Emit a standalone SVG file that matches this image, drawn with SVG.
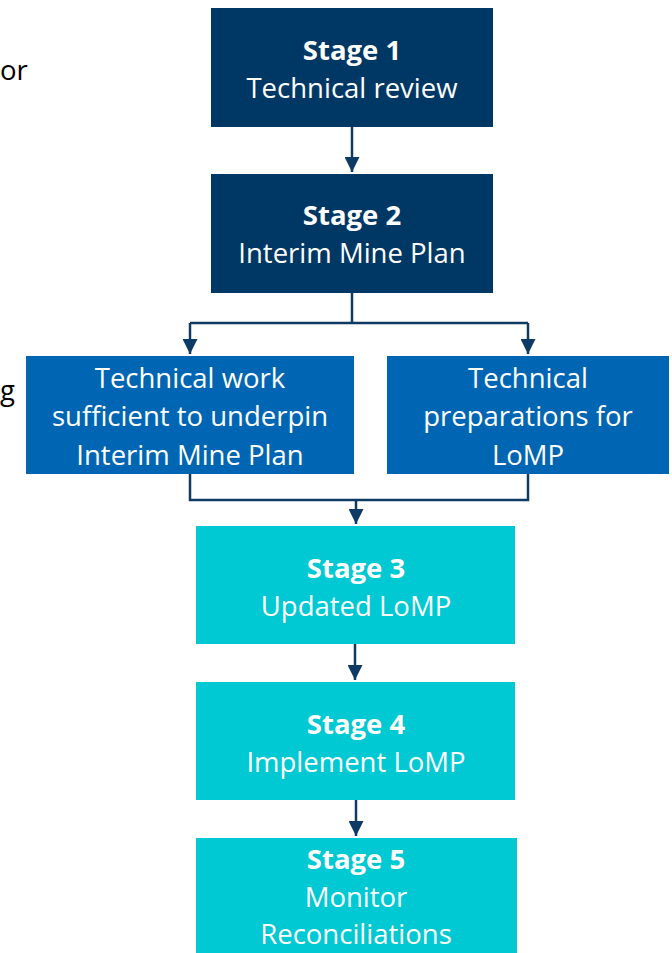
<svg xmlns="http://www.w3.org/2000/svg" width="672" height="953" viewBox="0 0 672 953">
<style>
.t{font-family:"Open Sans","Liberation Sans",sans-serif;font-size:27.5px;fill:#fff;text-anchor:middle}
.b{font-weight:bold}
.k{font-family:"Open Sans","Liberation Sans",sans-serif;font-size:27.5px;fill:#000}
.c{fill:none;stroke:#0d3b66;stroke-width:2.5}
.navy{fill:#003865}
.blue{fill:#0066b3}
.cyan{fill:#00c9d4}
</style>
<defs>
<marker id="ah" viewBox="0 0 10 10" refX="10" refY="5" markerWidth="6" markerHeight="6" orient="auto" markerUnits="strokeWidth">
<path d="M0,0 L10,5 L0,10 z" fill="#0d3b66"/>
</marker>
</defs>
<text class="k" x="0" y="80">or</text>
<text class="k" x="0" y="400">g</text>
<g id="connectors">
<path class="c" d="M352,127 V172" marker-end="url(#ah)"/>
<path class="c" d="M352,293 V323 M190,323 H528"/>
<path class="c" d="M190,323 V354" marker-end="url(#ah)"/>
<path class="c" d="M528,323 V354" marker-end="url(#ah)"/>
<path class="c" d="M190,474 V500 H528 V474"/>
<path class="c" d="M356,500 V524" marker-end="url(#ah)"/>
<path class="c" d="M355,644 V680" marker-end="url(#ah)"/>
<path class="c" d="M356,800 V836" marker-end="url(#ah)"/>
</g>
<g id="stage1"><rect class="navy" x="211" y="8" width="282" height="119"/>
<text class="t b" x="352" y="60">Stage 1</text><text class="t" x="352" y="98">Technical review</text></g>
<g id="stage2"><rect class="navy" x="211" y="174" width="282" height="119"/>
<text class="t b" x="352" y="225">Stage 2</text><text class="t" x="352" y="263">Interim Mine Plan</text></g>
<g id="work"><rect class="blue" x="26" y="356" width="328" height="118"/>
<text class="t" x="190" y="388">Technical work</text><text class="t" x="190" y="426">sufficient to underpin</text><text class="t" x="190" y="465">Interim Mine Plan</text></g>
<g id="prep"><rect class="blue" x="387" y="356" width="282" height="118"/>
<text class="t" x="528" y="388">Technical</text><text class="t" x="528" y="426">preparations for</text><text class="t" x="528" y="465">LoMP</text></g>
<g id="stage3"><rect class="cyan" x="196" y="526" width="319" height="118"/>
<text class="t b" x="356" y="578">Stage 3</text><text class="t" x="356" y="616">Updated LoMP</text></g>
<g id="stage4"><rect class="cyan" x="196" y="682" width="319" height="118"/>
<text class="t b" x="356" y="734">Stage 4</text><text class="t" x="356" y="772">Implement LoMP</text></g>
<g id="stage5"><rect class="cyan" x="196" y="838" width="321" height="120"/>
<text class="t b" x="356" y="869">Stage 5</text><text class="t" x="356" y="907">Monitor</text><text class="t" x="356" y="944">Reconciliations</text></g>
</svg>
